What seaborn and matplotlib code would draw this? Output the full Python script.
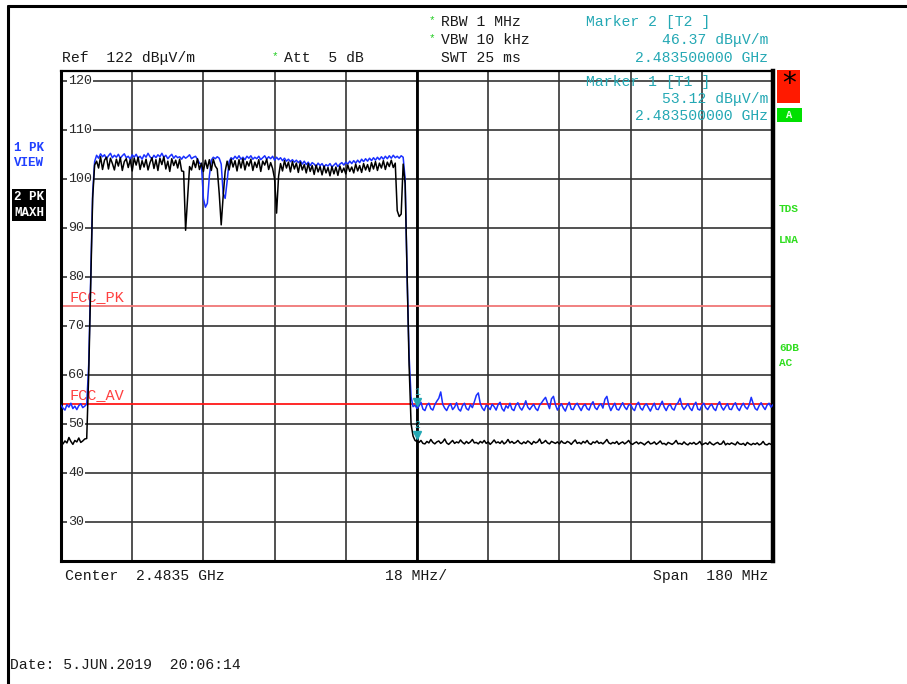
import numpy as np
import pandas as pd
import matplotlib
matplotlib.use("Agg")
import matplotlib.pyplot as plt
import matplotlib.transforms as mtransforms
from matplotlib.lines import Line2D
from matplotlib.patches import Rectangle
import seaborn as sns

W, H = 907, 684

# ---- analyzer settings -------------------------------------------------
center_mhz = 2483.5
span_mhz = 180.0
mhz_per_div = 18.0
n_points = 361
y_min, y_max = 22.0, 122.0
y_ticks = [30, 40, 50, 60, 70, 80, 90, 100, 110, 120]

limit_pk = 74.0
limit_av = 54.0

marker_freq_mhz = 2483.5
marker1_level = 53.12   # trace 1 (PK VIEW)
marker2_level = 46.37   # trace 2 (PK MAXH)

# ---- trace 1 : 1 PK VIEW (blue) ---------------------------------------
blue_left = [53.8, 53.2, 52.8, 53.9, 53.4, 54.2, 53.1, 53.6, 52.9, 53.7,
             54.1, 53.3, 53.6]
blue_rise = [54.0, 62.0, 80.0, 97.0, 103.5]
blue_plateau = [
    104.8, 104.2, 105.1, 104.5, 104.9, 104.1, 104.7, 105.2, 104.3, 104.8,
    104.4, 105.0, 104.2, 104.7, 105.1, 104.3, 104.6, 104.0, 104.9, 104.4,
    105.0, 104.2, 104.6, 104.0, 104.9, 104.4, 105.2, 104.5, 104.1, 104.8,
    104.3, 104.9, 104.5, 105.2, 104.4, 104.8, 104.1, 104.6, 105.0, 104.2,
    104.7, 104.3, 104.5, 104.0, 104.6, 104.2, 104.5, 104.9, 104.1, 104.4,
    104.6, 104.0, 103.2, 103.0, 96.0, 94.2, 95.0, 100.5, 103.8, 104.4,
    104.1, 104.5, 104.2, 103.0, 97.0, 96.0, 99.5, 103.5, 104.3, 104.0,
    104.6, 104.1, 104.7, 104.0, 104.4, 103.9, 104.6, 104.2, 104.7, 104.0,
    104.4, 104.1, 104.6, 103.9, 104.3, 104.7, 104.0, 104.5, 104.1, 104.6,
    103.8, 104.4, 103.9, 104.3, 103.7, 104.2, 103.6, 104.0, 103.5, 103.9,
    103.4, 103.8, 103.3, 103.7, 103.0, 103.6, 102.9, 103.4, 102.7, 103.3,
    103.0, 102.5, 103.2, 102.7, 103.1, 102.4, 102.9, 102.6, 103.1, 102.4,
    102.8, 103.2, 102.5, 103.0, 103.3, 102.8, 103.4, 103.0, 103.6, 103.1,
    103.7, 103.2, 103.8, 103.3, 104.0, 103.5, 104.1, 103.6, 104.2, 103.7,
    104.3, 103.8, 104.4, 103.9, 104.5, 104.0, 104.6, 104.1, 104.7, 104.2,
    104.8, 104.3, 104.6, 104.2, 104.7, 104.4]
blue_fall = [100.0, 80.0, 64.0, 55.5, 53.5, 53.8, marker1_level]
blue_right = [
    53.6, 54.4, 53.0, 52.7, 53.8, 54.2, 53.1, 52.8, 53.9, 54.6,
    55.2, 56.5, 54.0, 53.2, 52.7, 53.6, 54.1, 52.9, 53.4, 54.3,
    53.0, 52.6, 53.7, 54.2, 53.1, 52.8, 53.9, 53.3, 54.5, 55.8,
    56.3, 54.1, 53.2, 52.7, 53.8, 53.4, 52.9, 54.0, 53.5, 52.8,
    53.9, 54.4, 53.1, 52.6, 53.7, 53.2, 54.2, 53.0, 52.7, 53.8,
    54.3, 53.3, 52.8, 53.6, 54.7, 53.4, 52.9, 53.5, 54.0, 53.1,
    52.7, 53.8, 54.3, 54.9, 55.4, 54.2, 53.1, 55.1, 55.6, 53.9,
    52.8, 53.5, 54.1, 53.2, 52.6, 53.7, 54.4, 53.0, 52.9, 53.8,
    54.2, 53.4, 52.7, 53.6, 54.0, 53.1, 52.8, 53.9, 54.5, 53.3,
    52.9, 53.7, 54.1, 53.2, 55.0, 55.6, 53.8, 52.7, 53.5, 54.2,
    53.0, 52.8, 53.6, 54.3, 53.4, 52.9, 53.8, 54.0, 53.1, 52.7,
    53.9, 54.4, 53.2, 52.8, 53.7, 54.1, 53.3, 52.6, 53.5, 54.2,
    53.0, 52.9, 53.8, 54.6, 53.4, 52.7, 53.6, 54.0, 53.1, 52.8,
    53.9, 54.3, 55.2, 53.6, 52.9, 53.5, 54.1, 53.2, 52.7, 53.8,
    54.4, 53.0, 52.8, 53.7, 54.2, 53.3, 52.9, 53.6, 54.0, 53.1,
    52.7, 53.9, 54.5, 53.4, 52.8, 53.5, 54.1, 53.0, 52.9, 53.8,
    54.3, 53.2, 52.7, 53.6, 54.2, 53.4, 53.0, 53.9, 55.4, 54.1,
    53.1, 52.8, 53.7, 54.3, 53.5, 52.9, 53.8, 54.2, 53.4, 53.9]

# ---- trace 2 : 2 PK MAXH (black) --------------------------------------
black_left = [45.6, 45.9, 46.5, 46.1, 47.2, 46.4, 45.8, 46.6, 46.3, 47.1,
              46.2, 46.5, 46.9]
black_rise = [47.0, 60.0, 78.0, 96.0, 102.8]
black_plateau = [
    103.6, 102.2, 104.5, 101.9, 103.8, 104.4, 102.0, 104.2, 103.1, 101.8,
    104.0, 102.6, 104.3, 101.7, 103.5, 104.1, 102.3, 103.9, 101.6, 104.2,
    102.8, 104.4, 101.9, 103.7, 102.4, 104.0, 101.8, 103.3, 104.3, 102.1,
    103.9, 101.7, 104.2, 102.9, 104.5, 102.0, 103.6, 101.5, 104.1, 102.7,
    103.8, 102.2, 104.0, 101.6, 101.5, 89.5, 96.0, 102.5, 101.8, 103.7,
    102.3, 104.1, 101.9, 103.2, 101.5, 103.8, 102.1, 103.9, 101.7, 104.0,
    102.6, 102.0, 97.0, 90.6, 96.5, 101.5, 103.6, 101.8, 104.0, 102.4,
    103.7, 101.6, 103.9, 102.2, 104.1, 101.8, 103.5, 102.6, 104.0, 101.7,
    103.4, 102.3, 103.9, 101.5, 103.6, 102.8, 104.0, 101.9, 103.3, 102.1,
    100.0, 93.0, 100.5, 103.1, 101.6, 103.7, 102.2, 103.4, 101.4, 103.5,
    102.0, 103.2, 101.3, 103.4, 101.8, 102.9, 101.2, 103.1, 101.5, 102.7,
    100.9, 102.8, 101.4, 102.5, 100.8, 102.6, 101.2, 102.3, 100.6, 102.5,
    101.0, 102.4, 100.7, 102.6, 101.3, 102.2, 101.0, 102.8, 101.5, 102.4,
    101.2, 103.0, 101.6, 102.7, 101.3, 103.1, 101.8, 102.9, 101.5, 103.3,
    102.0, 103.5, 101.7, 103.2, 102.2, 103.7, 101.9, 103.4, 102.5, 103.8,
    102.3, 103.2, 93.5, 92.3, 92.8, 103.0]
black_fall = [99.0, 80.0, 62.0, 50.0, 47.5, 46.6, marker2_level]
black_right = [
    46.2, 46.6, 46.0, 45.9, 46.4, 46.1, 46.8, 46.2, 45.9, 46.3,
    46.5, 46.0, 46.3, 46.9, 46.1, 45.8, 46.2, 46.6, 46.0, 46.3,
    46.1, 46.7, 46.2, 45.9, 46.4, 46.0, 46.3, 46.8, 46.1, 46.2,
    45.9, 46.4, 46.1, 46.6, 46.0, 46.3, 45.8, 46.2, 46.7, 46.1,
    46.3, 46.0, 46.5, 45.9, 46.2, 46.8, 46.1, 46.4, 46.0, 46.2,
    46.6, 46.1, 45.9, 46.3, 46.0, 46.5, 46.2, 45.8, 46.4, 46.1,
    46.3, 46.9, 46.0, 46.2, 46.6, 46.1, 45.9, 46.4, 46.2, 46.0,
    46.3, 45.9, 46.5, 46.1, 46.0, 46.4, 46.2, 45.8, 46.3, 46.7,
    46.0, 46.2, 45.9, 46.4, 46.1, 46.6, 46.0, 45.8, 46.3, 46.1,
    46.5, 46.0, 46.2, 45.9, 46.3, 46.8, 46.1, 45.9, 46.2, 46.0,
    46.4, 45.8, 46.1, 46.3, 45.9, 46.2, 46.6, 46.0, 45.8, 46.1,
    46.3, 45.9, 46.2, 46.0, 45.7, 46.1, 46.4, 45.9, 46.0, 46.3,
    45.8, 46.1, 46.5, 45.9, 46.0, 45.7, 46.2, 46.0, 45.8, 46.1,
    46.6, 45.9, 46.0, 45.8, 46.3, 45.9, 45.7, 46.1, 45.9, 46.2,
    45.8, 46.0, 46.4, 45.7, 45.9, 46.1, 45.8, 46.3, 45.9, 45.7,
    46.0, 46.2, 45.8, 45.9, 46.5, 45.7, 46.0, 45.8, 46.1, 45.9,
    45.7, 46.3, 45.9, 45.8, 46.0, 45.6, 46.2, 45.9, 45.7, 46.0,
    45.8, 46.1, 45.7, 45.9, 46.4, 45.8, 45.7, 46.0, 45.8, 45.9]

trace1 = blue_left + blue_rise + blue_plateau + blue_fall + blue_right
trace2 = black_left + black_rise + black_plateau + black_fall + black_right

# uniform sweep grid of the analyzer
freq_mhz = np.linspace(center_mhz - span_mhz / 2, center_mhz + span_mhz / 2, n_points)

df = pd.DataFrame({
    "freq": np.concatenate([freq_mhz, freq_mhz]),
    "level": np.array(trace1 + trace2),
    "trace": ["1 PK VIEW"] * n_points + ["2 PK MAXH"] * n_points,
})

# ---- figure ------------------------------------------------------------
sns.set_theme(style="white")
plt.rcParams["font.family"] = ["Liberation Mono", "DejaVu Sans Mono"]

fig = plt.figure(figsize=(W / 100, H / 100), dpi=100)
fig.patch.set_facecolor("white")


def px(x, y):
    return x / W, 1 - y / H


ax = fig.add_axes([61 / W, 1 - 561 / H, 712 / W, 490 / H])
ax.set_facecolor("white")

sns.lineplot(data=df, x="freq", y="level", hue="trace",
             palette={"1 PK VIEW": "#1a30ff", "2 PK MAXH": "#000000"},
             estimator=None, sort=False, lw=1.1, legend=False, ax=ax)
for ln in ax.get_lines():
    ln.set_zorder(3)

x0 = center_mhz - span_mhz / 2
ax.set_xlim(x0, center_mhz + span_mhz / 2)
ax.set_ylim(y_min, y_max)
ax.set_xticks([x0 + mhz_per_div * k for k in range(11)])
ax.set_yticks(y_ticks)
ax.tick_params(length=0, labelbottom=False, labelleft=False)
ax.grid(True, color="#333333", lw=1.2)
ax.set_axisbelow(True)
ax.set_xlabel("")
ax.set_ylabel("")
ax.axvline(center_mhz, color="black", lw=2.0, zorder=1.5)

for side, lw in {"left": 2.2, "bottom": 2.2, "top": 1.6, "right": 3.2}.items():
    ax.spines[side].set_visible(True)
    ax.spines[side].set_color("black")
    ax.spines[side].set_linewidth(lw)

# limit lines
ax.axhline(limit_pk, color="#f07676", lw=1.3, zorder=2)
ax.axhline(limit_av, color="#ff1818", lw=1.3, zorder=2)
lim_tr = mtransforms.blended_transform_factory(ax.transAxes, ax.transData)
ax.text(0.012, limit_pk + 1.9, "FCC_PK", transform=lim_tr, color="#ff4040",
        fontsize=11, ha="left", va="center", zorder=2.2)
ax.text(0.012, limit_av + 1.9, "FCC_AV", transform=lim_tr, color="#ff4040",
        fontsize=11, ha="left", va="center", zorder=2.2)

# level labels inside the grid
for v in y_ticks:
    ax.text(0.0098, v, f"{v}", transform=lim_tr, ha="left", va="center",
            fontsize=9.6, color="#2a2a2a", zorder=2.6,
            bbox=dict(fc="white", ec="none", pad=0.8))

# markers
teal = "#24a8b4"
tri_tr = mtransforms.offset_copy(ax.transData, fig=fig, x=0, y=4.5, units="points")
num_tr = mtransforms.offset_copy(ax.transData, fig=fig, x=0, y=12, units="points")
for lvl, num in [(marker1_level, "1"), (marker2_level, "2")]:
    ax.plot([marker_freq_mhz], [lvl], marker="v", ms=6, color=teal,
            transform=tri_tr, zorder=4, ls="none")
    ax.text(marker_freq_mhz, lvl, num, transform=num_tr, color=teal,
            fontsize=7, ha="center", va="center", zorder=4)

# ---- annotation text around the screen ---------------------------------
fs = 10.6


def ftext(x, y, s, **kw):
    kw.setdefault("fontsize", fs)
    kw.setdefault("va", "center")
    kw.setdefault("color", "#1a1a1a")
    fig.text(*px(x, y), s, **kw)


ftext(441, 22, "RBW 1 MHz")
ftext(441, 40, "VBW 10 kHz")
ftext(441, 58, "SWT 25 ms")
ftext(432, 20, "*", color="#22cc22", fontsize=8, ha="center")
ftext(432, 38, "*", color="#22cc22", fontsize=8, ha="center")
ftext(275, 56, "*", color="#22cc22", fontsize=8, ha="center")
ftext(62, 58, "Ref  122 dBμV/m")
ftext(284, 58, "Att  5 dB")

ftext(586, 22, "Marker 2 [T2 ]", color=teal)
ftext(768, 40, f"{marker2_level:.2f} dBμV/m", color=teal, ha="right")
ftext(768, 58, f"{marker_freq_mhz / 1000:.9f} GHz", color=teal, ha="right")
ftext(586, 82, "Marker 1 [T1 ]", color=teal)
ftext(768, 99, f"{marker1_level:.2f} dBμV/m", color=teal, ha="right")
ftext(768, 116, f"{marker_freq_mhz / 1000:.9f} GHz", color=teal, ha="right")

ftext(65, 576, f"Center  {center_mhz / 1000:.4f} GHz")
ftext(385, 576, f"{mhz_per_div:.0f} MHz/")
ftext(768, 576, f"Span  {span_mhz:.0f} MHz", ha="right")
ftext(10, 665, "Date: 5.JUN.2019  20:06:14")

# trace labels on the left
ftext(14, 148, "1 PK", color="#2040ff", fontsize=9, fontweight="bold")
ftext(14, 163, "VIEW", color="#2040ff", fontsize=9, fontweight="bold")
ftext(14, 197, "2 PK", color="white", fontsize=9, fontweight="bold",
      bbox=dict(fc="black", ec="none", pad=1.2))
ftext(14, 213, "MAXH", color="white", fontsize=9, fontweight="bold",
      bbox=dict(fc="black", ec="none", pad=1.2))

# status indicators on the right
fig.add_artist(Rectangle(px(777, 103), 23 / W, 33 / H, transform=fig.transFigure,
                         fc="#ff1a00", ec="none"))
ftext(789, 84, "*", color="black", fontsize=20, ha="center", family="DejaVu Sans")
fig.add_artist(Rectangle(px(777, 122), 25 / W, 14 / H, transform=fig.transFigure,
                         fc="#00e000", ec="none"))
ftext(789, 115, "A", color="#e8ffe8", fontsize=7.5, ha="center", fontweight="bold")
green = "#30dd20"
for y, s in [(209, "TDS"), (240, "LNA"), (348, "6DB"), (363, "AC")]:
    ftext(779, y, s, color=green, fontsize=8, fontweight="bold")

# outer frame of the screen
fig.add_artist(Line2D([8 / W, 8 / W], [0, 1 - 6 / H], color="black", lw=2.2,
                      transform=fig.transFigure))
fig.add_artist(Line2D([8 / W, 1], [1 - 6 / H, 1 - 6 / H], color="black", lw=2.2,
                      transform=fig.transFigure))

fig.savefig("out.png", dpi=100, facecolor="white")
